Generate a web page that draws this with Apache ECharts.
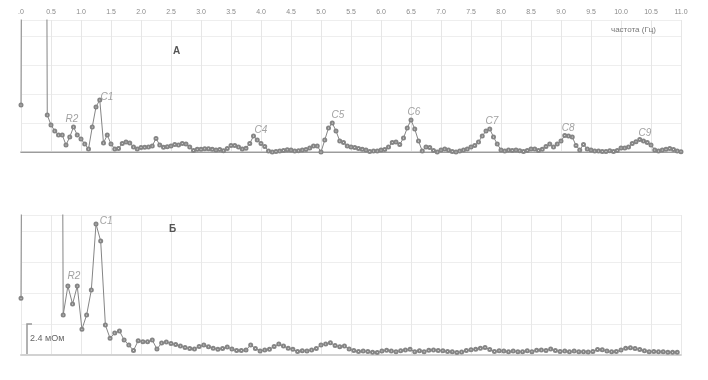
<!DOCTYPE html>
<html><head><meta charset="utf-8">
<script src="https://cdn.jsdelivr.net/npm/echarts@6/dist/echarts.min.js"></script>
<style>html,body{margin:0;padding:0;background:#fff}#c{width:708px;height:380px}</style>
</head><body><div id="c"></div>
<script>
// ---- Panel А: spectrum (mΩ), frequency step in Hz ----
const stepA = 0.0625;
const ampA = [
 3.89, 100, 100, 100, 100, 100, 100, 3.06, 2.24, 1.74,
 1.41, 1.41, 0.58, 1.24, 2.07, 1.41, 1.08, 0.66, 0.25, 2.07,
 3.73, 4.31, 0.75, 1.41, 0.66, 0.25, 0.29, 0.70, 0.83, 0.75,
 0.41, 0.25, 0.37, 0.39, 0.41, 0.50, 1.12, 0.58, 0.39, 0.44,
 0.50, 0.62, 0.58, 0.70, 0.66, 0.41, 0.12, 0.22, 0.22, 0.27,
 0.27, 0.22, 0.17, 0.21, 0.11, 0.29, 0.54, 0.54, 0.41, 0.25,
 0.31, 0.70, 1.32, 0.99, 0.70, 0.46, 0.08, 0.00, 0.04, 0.08,
 0.12, 0.19, 0.17, 0.08, 0.10, 0.17, 0.21, 0.33, 0.50, 0.50,
 0.00, 0.99, 1.99, 2.40, 1.74, 0.91, 0.79, 0.50, 0.41, 0.37,
 0.29, 0.22, 0.17, 0.04, 0.08, 0.08, 0.17, 0.21, 0.41, 0.79,
 0.83, 0.62, 1.16, 1.99, 2.65, 1.90, 0.91, 0.08, 0.41, 0.37,
 0.12, 0.00, 0.17, 0.25, 0.17, 0.04, 0.00, 0.08, 0.17, 0.25,
 0.41, 0.54, 0.83, 1.32, 1.74, 1.90, 1.24, 0.66, 0.17, 0.08,
 0.17, 0.12, 0.17, 0.11, 0.04, 0.12, 0.25, 0.25, 0.12, 0.22,
 0.46, 0.66, 0.41, 0.66, 0.91, 1.37, 1.32, 1.24, 0.54, 0.17,
 0.62, 0.25, 0.17, 0.08, 0.08, 0.04, 0.04, 0.11, 0.04, 0.12,
 0.33, 0.33, 0.41, 0.70, 0.85, 1.04, 0.91, 0.79, 0.58, 0.17,
 0.08, 0.17, 0.22, 0.29, 0.21, 0.08, 0.02
];
// ---- Panel Б ----
const stepB = 0.078125;
const ampB = [
 4.39, 100, 100, 100, 100, 100, 100, 100, 100, 3.10,
 5.34, 3.95, 5.34, 1.99, 3.10, 5.03, 10.14, 8.82, 2.32, 1.29,
 1.70, 1.86, 1.16, 0.77, 0.35, 1.11, 1.03, 1.03, 1.16, 0.46,
 0.93, 1.01, 0.89, 0.81, 0.70, 0.58, 0.50, 0.46, 0.66, 0.77,
 0.64, 0.52, 0.44, 0.50, 0.62, 0.46, 0.35, 0.35, 0.39, 0.77,
 0.50, 0.31, 0.39, 0.44, 0.66, 0.85, 0.70, 0.52, 0.44, 0.27,
 0.33, 0.31, 0.39, 0.50, 0.77, 0.85, 0.95, 0.74, 0.64, 0.70,
 0.46, 0.35, 0.27, 0.31, 0.27, 0.21, 0.19, 0.31, 0.36, 0.31,
 0.26, 0.33, 0.39, 0.44, 0.26, 0.33, 0.26, 0.36, 0.39, 0.35,
 0.33, 0.27, 0.26, 0.19, 0.23, 0.35, 0.40, 0.44, 0.52, 0.58,
 0.43, 0.27, 0.33, 0.31, 0.26, 0.31, 0.26, 0.26, 0.33, 0.26,
 0.36, 0.39, 0.35, 0.46, 0.35, 0.27, 0.31, 0.26, 0.31, 0.26,
 0.26, 0.23, 0.27, 0.43, 0.41, 0.31, 0.26, 0.27, 0.39, 0.53,
 0.56, 0.50, 0.43, 0.33, 0.26, 0.27, 0.26, 0.26, 0.21, 0.21,
 0.21
];
// ---- tick labels (0 .. 11 Hz every 0.5) ----
const xTickLabels = ['.0','0.5','1.0','1.5','2.0','2.5','3.0','3.5','4.0','4.5','5.0','5.5',
  '6.0','6.5','7.0','7.5','8.0','8.5','9.0','9.5','10.0','10.5','11.0'];
// ---- peak annotations: name, label frequency (Hz), label level (mΩ) ----
const peakNamesA = ['R2','C1','C4','C5','C6','C7','C8','C9'];
const peakFreqA  = [0.85, 1.43, 4.00, 5.28, 6.55, 7.85, 9.12, 10.40];
const peakAmpA   = [2.73, 4.55, 1.82, 3.06, 3.31, 2.57, 1.99, 1.57];
const peakNamesB = ['R2','C1'];
const peakFreqB  = [0.88, 1.42];
const peakAmpB   = [6.11, 10.37];
const scaleBarValue = 2.4; // мОм
const panelTitles = ['А','Б'];
const axisTitle = 'частота (Гц)';

const FONT = 'Liberation Sans, Arial, sans-serif';
const GREY = '#858585';
const chart = echarts.init(document.getElementById('c'));

function lineSeries(step, arr, xi, yi){
  return {
    type:'line', xAxisIndex:xi, yAxisIndex:yi, clip:true,
    data: arr.map((v,i)=>[i*step, v]),
    symbol:'emptyCircle', symbolSize:3,
    lineStyle:{color:GREY, width:1},
    itemStyle:{color:GREY, borderWidth:0.7},
    silent:true
  };
}
function labelSeries(names, fs, vs, xi, yi){
  return {
    type:'scatter', xAxisIndex:xi, yAxisIndex:yi, silent:true,
    symbolSize:1, itemStyle:{color:'rgba(0,0,0,0)'},
    data: names.map((n,i)=>[fs[i], vs[i], n]),
    label:{show:true, position:'inside', formatter:p=>p.data[2],
      fontStyle:'italic', fontSize:10, color:'#8a8a8a', fontFamily:FONT}
  };
}

const option = {
  animation:false,
  backgroundColor:'#ffffff',
  grid:[
    {left:21, top:20, width:660, height:132},
    {left:21, top:215, width:660, height:140}
  ],
  xAxis:[
    {gridIndex:0, type:'value', position:'top', min:0, max:11, interval:0.5,
      axisLine:{lineStyle:{color:'#cfcfcf', width:2}}, axisTick:{show:false},
      axisLabel:{fontSize:7, color:'#8a8a8a', margin:4, fontFamily:FONT,
        formatter:v=>xTickLabels[Math.round(v/0.5)]},
      splitLine:{lineStyle:{color:'#e6e6e6'}}},
    {gridIndex:0, type:'value', position:'bottom', min:0, max:11,
      axisLine:{lineStyle:{color:'#9c9c9c', width:1}}, axisTick:{show:false},
      axisLabel:{show:false}, splitLine:{show:false}},
    {gridIndex:1, type:'value', position:'bottom', min:0, max:11, interval:0.5,
      axisLine:{lineStyle:{color:'#d2d2d2', width:2}}, axisTick:{show:false},
      axisLabel:{show:false}, splitLine:{lineStyle:{color:'#e8e8e8'}}}
  ],
  yAxis:[
    {gridIndex:0, type:'value', min:0, max:10.92, interval:2.4,
      axisLine:{show:false}, axisTick:{show:false}, axisLabel:{show:false},
      splitLine:{lineStyle:{color:'#eeeeee'}}},
    {gridIndex:1, type:'value', min:0, max:10.84, interval:2.4,
      axisLine:{show:false}, axisTick:{show:false}, axisLabel:{show:false},
      splitLine:{lineStyle:{color:'#eeeeee'}}}
  ],
  series:[
    lineSeries(stepA, ampA, 0, 0),
    lineSeries(stepB, ampB, 2, 1),
    labelSeries(peakNamesA, peakFreqA, peakAmpA, 0, 0),
    labelSeries(peakNamesB, peakFreqB, peakAmpB, 2, 1)
  ]
};
chart.setOption(option);

// scale bar for panel Б, derived from the axis scale
const y0 = chart.convertToPixel({yAxisIndex:1}, 0);
const y1 = chart.convertToPixel({yAxisIndex:1}, scaleBarValue);
chart.setOption({
  graphic:[
    {type:'text', left:173, top:46, style:{text:panelTitles[0], font:'bold 10px '+FONT, fill:'#555'}},
    {type:'text', left:169, top:224, style:{text:panelTitles[1], font:'bold 10px '+FONT, fill:'#555'}},
    {type:'text', left:611, top:26, style:{text:axisTitle, font:'8px '+FONT, fill:'#777'}},
    {type:'polyline', shape:{points:[[32,y1],[27,y1],[27,y0],[32,y0]]},
      style:{stroke:'#999', lineWidth:1.5, fill:null}},
    {type:'text', left:30, top:(y0+y1)/2-5, style:{text:scaleBarValue+' мОм', font:'9px '+FONT, fill:'#666'}}
  ]
});
</script></body></html>
